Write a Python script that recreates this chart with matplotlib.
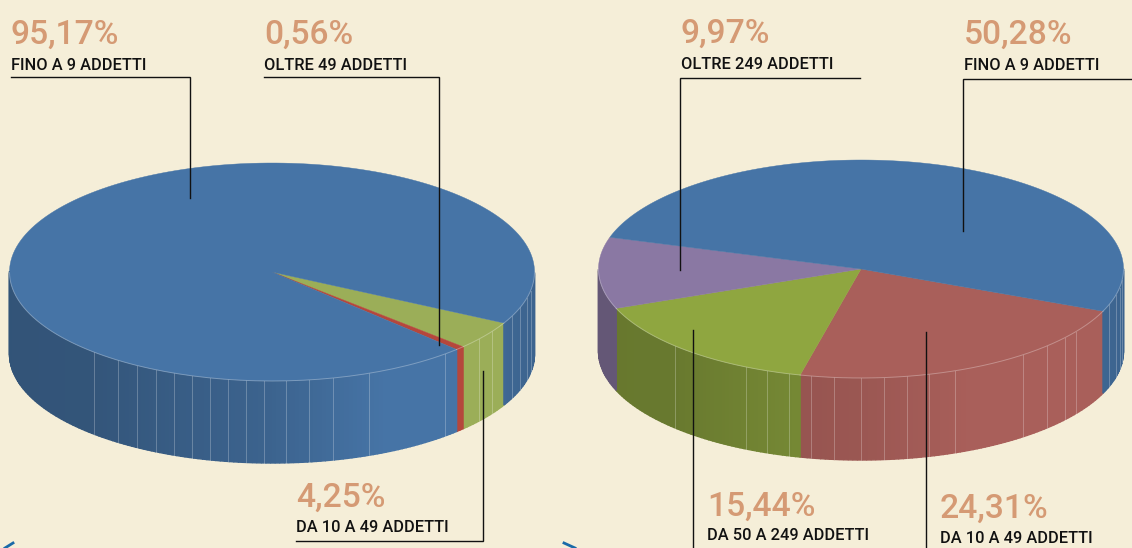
import numpy as np
import matplotlib
matplotlib.use("Agg")
import matplotlib.pyplot as plt
from matplotlib.patches import Polygon

plt.rcParams['font.family'] = ['Roboto', 'DejaVu Sans']

# clockwise from the right hand edge of the first slice
left_names = ["DA 10 A 49 ADDETTI", "OLTRE 49 ADDETTI", "FINO A 9 ADDETTI"]
left_shares = [4.25, 0.56, 95.17]
left_colors = ["#9bae58", "#b5473c", "#4674a6"]

right_names = ["DA 10 A 49 ADDETTI", "DA 50 A 249 ADDETTI", "OLTRE 249 ADDETTI", "FINO A 9 ADDETTI"]
right_shares = [24.31, 15.44, 9.97, 50.28]
right_colors = ["#a95f5a", "#8fa640", "#8a78a3", "#4674a6"]

BG = "#f5eed8"
PCT = "#d59a74"
BLUE = "#4674a6"
RED = "#a95f5a"
RX, RY, DEPTH = 262.5, 109, 82


def shade(color, a):
    # side wall gets darker towards the left, only the blue one also on the far right
    right = [.88, .85] if color == BLUE else [1, 1]
    f = np.interp(a, [-180, -135, -90, -65, -45, -25, 0], [.72, .73, .86, 1, 1] + right)
    if color == RED:
        f = 1 - (1 - f) * .6
    return tuple(np.array(matplotlib.colors.to_rgb(color)) * f)


def draw_pie(ax, cx, cy, shares, colors, start, facets, warp=(0, 0)):
    def px(a):
        return cx + RX * np.cos(np.radians(a)), cy - RY * np.sin(np.radians(a))

    def view(a):
        # the picture was drawn in perspective, slices don't sit at their true angle
        return a + warp[0] + warp[1] * np.cos(np.radians(a + 140))

    edges = start - np.cumsum([0] + shares) * 3.6
    edges = [view(e) for e in edges]

    for color, a0, a1 in zip(colors, edges[:-1], edges[1:]):
        # side wall, only the front half of the disc shows
        angs = np.arange(a0, a1 - 1, -1.0)
        angs = np.append(angs[angs > a1], a1)
        for u, v in zip(angs[:-1], angs[1:]):
            # angles wrapped to -180..180 so sin<0 is the front
            w = ((u + v) / 2 + 180) % 360 - 180
            if w > 0:
                continue
            x1, y1 = px(u)
            x2, y2 = px(v)
            c = shade(color, w)
            ax.add_patch(Polygon([(x1, y1), (x2, y2), (x2, y2 + DEPTH), (x1, y1 + DEPTH)],
                                 fc=c, ec=c, lw=1, zorder=2))

    for f in facets:
        x, y = px(f)
        ax.plot([x, x], [y, y + DEPTH], color="white", alpha=.25, lw=.7, zorder=3)

    for color, a0, a1 in zip(colors, edges[:-1], edges[1:]):
        angs = np.linspace(a0, a1, 200)
        xs, ys = px(angs)
        pts = [(cx, cy)] + list(zip(xs, ys))
        ax.add_patch(Polygon(pts, fc=color, ec=color, lw=.3, zorder=4))
        # thin light rim on the front
        w = (angs + 180) % 360 - 180
        xs = np.where(w < 0, xs, np.nan)
        ax.plot(xs, ys, color="white", alpha=.3, lw=.7, zorder=5)


def label(ax, x, y_pct, y_name, pct, name):
    ax.text(x, y_pct, pct, color=PCT, fontsize=24.2, fontweight="medium", va="baseline", ha="left", zorder=8)
    ax.text(x, y_name, name, color="#111111", fontsize=11.8, fontweight="medium",
            va="baseline", ha="left", zorder=8)


def leader(ax, xs, ys):
    ax.plot(xs, ys, color="#111111", lw=1, solid_joinstyle="miter", zorder=7)


fig = plt.figure(figsize=(11.32, 5.48), dpi=100, facecolor=BG)
ax = fig.add_axes([0, 0, 1, 1])
ax.set_xlim(0, 1132)
ax.set_ylim(548, 0)
ax.axis("off")

left_facets = [-132.6, -126, -120.9, -116.2, -111.9, -107.8, -103.6, -99.6, -95.6, -91.7, -87, -82, -76.6, -68.4,
               -48.9, -38, -33, -24, -19, -14, -10]
right_facets = [-135, -116, -111, -106, -101, -96, -90, -85, -80, -75, -69, -52, -45, -39, -35, -19, -14, -10, -6]

draw_pie(ax, 272, 272, left_shares, left_colors, -28.0, left_facets)
draw_pie(ax, 861, 269, right_shares, right_colors, -22.7, right_facets, warp=(2.3, 5.2))

leader(ax, [11, 190, 190], [77, 77, 198])
leader(ax, [264, 439, 439], [77, 77, 345])
leader(ax, [296, 483, 483], [541, 541, 371])
leader(ax, [860, 680, 680], [78, 78, 270])
leader(ax, [1132, 963, 963], [79, 79, 231])
leader(ax, [693, 693], [548, 330])
leader(ax, [926, 926], [548, 332])

label(ax, 11, 44, 70, "95,17%", left_names[2])
label(ax, 264, 44, 70, "0,56%", left_names[1])
label(ax, 296, 507, 532, "4,25%", left_names[0])
label(ax, 681, 43, 69, "9,97%", right_names[2])
label(ax, 964, 44, 70, "50,28%", right_names[3])
label(ax, 707, 516, 540, "15,44%", right_names[1])
label(ax, 940, 518, 543, "24,31%", right_names[0])

# bits of the page arrows cut off at the bottom edge
ax.plot([13, 5], [543, 548], color="#1a6aa8", lw=2)
ax.plot([564, 575], [543, 548], color="#1a6aa8", lw=2)

fig.savefig("out.png", dpi=100, facecolor=BG)
